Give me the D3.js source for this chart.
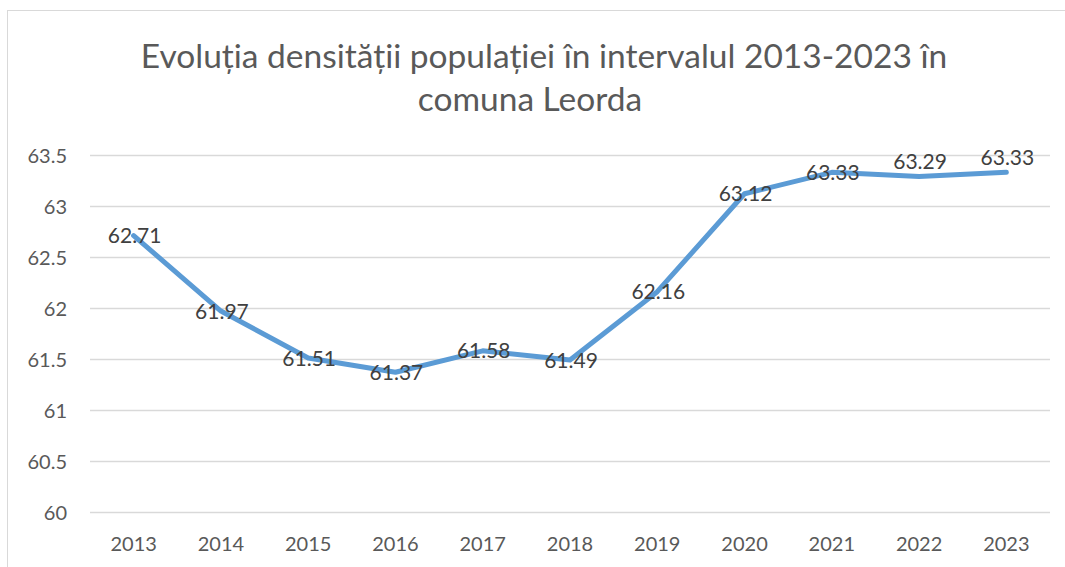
<!DOCTYPE html>
<html>
<head>
<meta charset="utf-8">
<script src="https://cdn.jsdelivr.net/npm/d3@7"></script>
<style>
  html, body { margin: 0; padding: 0; background: #fff; }
  svg { display: block; font-family: Lato, "Open Sans", sans-serif; }
</style>
</head>
<body>
<svg id="chart" width="1065" height="567"></svg>
<script>
const titleLines = ["Evoluția densității populației în intervalul 2013-2023 în", "comuna Leorda"];
const years = ["2013","2014","2015","2016","2017","2018","2019","2020","2021","2022","2023"];
const density = [62.71, 61.97, 61.51, 61.37, 61.58, 61.49, 62.16, 63.12, 63.33, 63.29, 63.33];
const labelPlacement = ["center","center","center","center","center","center","center","center","center","above","above"];
const yTicks = [60, 60.5, 61, 61.5, 62, 62.5, 63, 63.5];

const svg = d3.select("#chart");
const W = 1065, H = 567;
const margin = {left: 90, right: 15, top: 155, bottom: 55};

// chart border
svg.append("rect")
  .attr("x", 7.5).attr("y", 10.5)
  .attr("width", W + 10).attr("height", H + 10)
  .attr("fill", "#fff").attr("stroke", "#d9d9d9").attr("stroke-width", 1);

const x = d3.scaleBand().domain(years).range([margin.left, W - margin.right]).paddingInner(0).paddingOuter(0);
const y = d3.scaleLinear().domain([60, 63.5]).range([H - margin.bottom, margin.top]);

// title
const titleX = [544, 530];
const titleY = [68, 111];
titleLines.forEach((t, i) => {
  svg.append("text")
    .attr("x", titleX[i]).attr("y", titleY[i])
    .attr("text-anchor", "middle")
    .attr("fill", "#595959")
    .style("font-size", "33.5px")
    .text(t);
});

// gridlines
const gridAxis = d3.axisLeft(y).tickValues(yTicks).tickSize(-(W - margin.right - margin.left)).tickFormat("");
const g = svg.append("g").attr("transform", `translate(${margin.left},0)`).call(gridAxis);
g.select(".domain").remove();
g.selectAll(".tick line").attr("stroke", "#d9d9d9").attr("stroke-width", 1.3);

// y labels
const yAxis = d3.axisLeft(y).tickValues(yTicks).tickSize(0).tickPadding(0).tickFormat(d => String(d));
const ya = svg.append("g").attr("transform", `translate(67,0)`).call(yAxis);
ya.select(".domain").remove();
ya.selectAll("text").attr("fill", "#595959").style("font-size", "20px").style("font-family", "Lato, sans-serif").attr("dy", "0.35em");

// x labels
const xAxis = d3.axisBottom(x).tickSize(0).tickPadding(0);
const xa = svg.append("g").attr("transform", `translate(0,${H - margin.bottom})`).call(xAxis);
xa.select(".domain").remove();
xa.selectAll("text").attr("fill", "#595959").style("font-size", "20px").style("font-family", "Lato, sans-serif").attr("dy", "0").attr("y", 39);

// line
const line = d3.line().x((d, i) => x(years[i]) + x.bandwidth() / 2).y(d => y(d));
svg.append("path")
  .datum(density)
  .attr("d", line)
  .attr("fill", "none")
  .attr("stroke", "#5B9BD5")
  .attr("stroke-width", 5)
  .attr("stroke-linejoin", "round")
  .attr("stroke-linecap", "round");

// data labels
svg.append("g").selectAll("text")
  .data(density)
  .join("text")
  .attr("x", (d, i) => x(years[i]) + x.bandwidth() / 2 + 1)
  .attr("y", (d, i) => y(d) + (labelPlacement[i] === "above" ? -15 : 0))
  .attr("dy", "0.36em")
  .attr("text-anchor", "middle")
  .attr("fill", "#404040")
  .style("font-size", "21px")
  .text(d => d.toFixed(2));
</script>
</body>
</html>
